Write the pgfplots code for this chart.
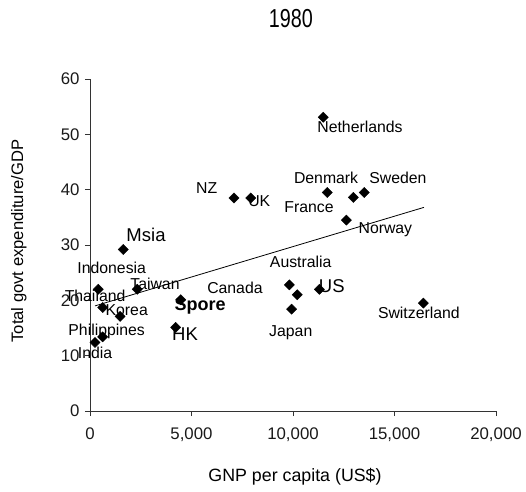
\documentclass[border=0pt]{standalone}
\usepackage{fontspec}
\setmainfont{Liberation Sans}
\newfontfamily\titlefont{Liberation Sans}[FakeStretch=0.76]
\usepackage{pgfplots}
\pgfplotsset{compat=1.18}
\begin{document}
\begin{tikzpicture}
\path[use as bounding box] (-90pt,-80pt) rectangle (436pt,411pt);
\begin{axis}[
  at={(0pt,0pt)}, anchor=south west,
  scale only axis, width=406pt, height=332pt,
  xmin=0, xmax=20000, ymin=0, ymax=60,
  axis lines=left, axis line style={-, black!80, line width=0.8pt},
  xtick={0,5000,10000,15000,20000}, ytick={0,10,...,60},
  tick align=outside, major tick length=5pt, tick style={black!80, line width=0.8pt},
  scaled x ticks=false,
  /pgf/number format/assume math mode=true,
  /pgf/number format/1000 sep={,},
  ticklabel style={font=\fontsize{16.8}{18}\selectfont, text=black!90},
  xticklabel style={yshift=-8pt},
  yticklabel style={xshift=-2pt},
  xlabel={GNP per capita (US\$)},
  xlabel style={at={(axis description cs:0.505,-0.199)}, anchor=center, font=\fontsize{17.8}{19}\selectfont},
  ylabel={Total govt expenditure/GDP},
  ylabel style={at={(axis description cs:-0.175,0.512)}, anchor=center, font=\fontsize{16.6}{18}\selectfont},
  title={\titlefont 1980},
  title style={at={(axis description cs:0.495,1.165)}, anchor=center, font=\fontsize{26}{28}\selectfont},
  clip=false,
]
\addplot[only marks, mark=square*, mark size=3.6pt, mark options={rotate=45, fill=black, draw=black}] coordinates {
  (1640,29.2) (7090,38.5) (7920,38.5)
  (410,22.0) (2330,22.0) (625,18.7) (1480,17.1)
  (4470,20.1) (4220,15.1) (625,13.4) (246,12.4)
  (9820,22.8) (10210,21.0) (9930,18.4)
  (11490,53.1) (11690,39.5) (12970,38.6) (13510,39.5)
  (12630,34.5) (11300,22.0) (16420,19.5)
};
\addplot[black, line width=0.8pt, no marks] coordinates {(250,19.0) (16450,36.8)};
\begin{scope}[every node/.style={font=\fontsize{15.8}{17}\selectfont, inner sep=0pt}]
\node at (axis cs:13300,51.4) {Netherlands};
\node at (axis cs:11630,42.1) {Denmark};
\node at (axis cs:15170,42.1) {Sweden};
\node at (axis cs:10790,36.8) {France};
\node at (axis cs:14550,32.8) {Norway};
\node at (axis cs:10380,27.0) {Australia};
\node at (axis cs:16200,17.7) {Switzerland};
\node at (axis cs:9890,14.2) {Japan};
\node at (axis cs:7140,22.3) {Canada};
\node at (axis cs:5750,40.3) {NZ};
\node at (axis cs:8340,38.0) {UK};
\node at (axis cs:1070,25.8) {Indonesia};
\node at (axis cs:250,20.9) {Thailand};
\node at (axis cs:3200,22.9) {Taiwan};
\node at (axis cs:1810,18.2) {Korea};
\node at (axis cs:820,14.3) {Philippines};
\node at (axis cs:250,10.5) {India};
\node[font=\fontsize{18.5}{20}\selectfont] at (axis cs:2760,31.8) {Msia};
\node[font=\fontsize{18.5}{20}\selectfont] at (axis cs:11910,22.5) {US};
\node[font=\fontsize{18.5}{20}\selectfont] at (axis cs:4680,13.9) {HK};
\node[font=\fontsize{18}{20}\selectfont\bfseries] at (axis cs:5420,19.0) {Spore};
\end{scope}
\end{axis}
\end{tikzpicture}
\end{document}
